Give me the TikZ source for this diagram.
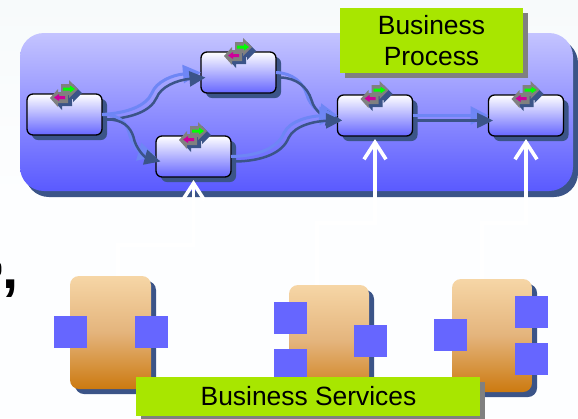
\documentclass[tikz,border=0pt]{standalone}
\usepackage{fontspec}
\setmainfont{Liberation Sans}
\usetikzlibrary{arrows.meta,shadows}
\definecolor{bgtop}{HTML}{F7FAFB}
\definecolor{bgbot}{HTML}{FDFEFF}
\definecolor{navy}{HTML}{3B5488}
\definecolor{flowblue}{HTML}{6E86F5}
\definecolor{portblue}{HTML}{6666FF}
\definecolor{lime}{HTML}{A8E600}
\definecolor{ptop}{HTML}{C4C4FF}
\definecolor{pbot}{HTML}{5A5AFF}
\definecolor{otop}{HTML}{F6D6A6}
\definecolor{omid}{HTML}{E4B47C}
\definecolor{obot}{HTML}{CC7A10}
\definecolor{iconmag}{HTML}{CC0099}
\definecolor{icongreen}{HTML}{00FF00}
\tikzset{
  x=1pt,y=-1pt,
  every node/.style={outer sep=0pt,inner sep=0pt},
  navyshadow/.style={drop shadow={shadow xshift=5pt,shadow yshift=-5pt,fill=navy,opacity=1}},
  panelbox/.style={minimum width=553pt,minimum height=158pt,rounded corners=24pt,top color=ptop,bottom color=pbot,
    drop shadow={shadow xshift=5pt,shadow yshift=-6pt,fill=navy,opacity=1}},
  taskbox/.style={minimum width=75pt,minimum height=41pt,rounded corners=6pt,draw=black,line width=1.3pt,
    top color=white,bottom color=portblue,navyshadow},
  servicebox/.style={rounded corners=9pt,top color=otop,bottom color=obot,middle color=omid,navyshadow},
  port/.style={fill=portblue,minimum width=33pt,minimum height=32pt},
  tag/.style={fill=lime,font=\fontsize{26.4}{32.5}\selectfont,align=center,
    drop shadow={shadow xshift=5pt,shadow yshift=-5pt,fill=black!50,opacity=1}},
  flowlight/.style={draw=flowblue,line width=3pt,-{Triangle[length=18pt,width=18pt]}},
  flowdark/.style={draw=navy,line width=2.5pt,-{Triangle[length=16pt,width=15pt]},transform canvas={shift={(4.5pt,-5pt)}}},
  feed/.style={draw=white,line width=3.6pt,-{Straight Barb[length=17pt,width=22pt,line width=3.6pt]}},
  bpicon/.pic={
    \begin{scope}[shift={(-64.5,-94)}]
      \fill[navy,shift={(4,4)}] (61,84)--(69,84)--(69,80)--(78,89)--(69,98)--(69,95)--(61,95)--cycle;
      \fill[navy,shift={(4,3)}] (68,92)--(58,92)--(58,89)--(50,98)--(58,107)--(58,103)--(68,103)--cycle;
      \fill[black!50] (61,84)--(69,84)--(69,80)--(78,89)--(69,98)--(69,95)--(61,95)--cycle;
      \fill[icongreen] (63,87.5)--(70,87.5)--(70,85.5)--(75,89)--(70,92.5)--(70,90.5)--(63,90.5)--cycle;
      \fill[black!50] (68,92)--(58,92)--(58,89)--(50,98)--(58,107)--(58,103)--(68,103)--cycle;
      \fill[iconmag] (65,96)--(59,96)--(59,94)--(54,97.5)--(59,101)--(59,99)--(65,99)--cycle;
    \end{scope}
  }
}
\newcommand\flowpair[1]{\draw[flowlight] #1; \draw[flowdark] #1;}
\begin{document}
\begin{tikzpicture}
\useasboundingbox (0,0) rectangle (578,418);
\fill[bgbot] (0,0) rectangle (578,418);
\shade[top color=bgtop,bottom color=bgbot] (0,0) rectangle (578,200);

% clipped punctuation at the left edge
\fill (0,269) ellipse [x radius=1.4,y radius=6];
\node[anchor=base,font=\bfseries\fontsize{58}{58}\selectfont] (comma) at (10.5,288.5) {,};

% panel
\node[panelbox] (panel) at (296.5,112) {};

% tasks
\node[taskbox] (T1) at (64.5,114.5) {};
\node[taskbox] (T2) at (238.5,72.5) {};
\node[taskbox] (T3) at (193.5,156.5) {};
\node[taskbox] (T4) at (375,115.5) {};
\node[taskbox] (T5) at (526,115.5) {};

% services
\node[servicebox,minimum width=81pt,minimum height=113pt] (S1) at (110.5,332.5) {};
\node[servicebox,minimum width=80pt,minimum height=113pt] (S2) at (329,341.5) {};
\node[servicebox,minimum width=80pt,minimum height=113pt] (S3) at (492,335.5) {};

% feeds from services to tasks
\draw[feed] ([xshift=7.5pt]S1.north) -- ++(0,-31) -| ([yshift=-3pt]T3.south);
\draw[feed] ([xshift=-12pt]S2.north) -- ++(0,-62) -| ([yshift=-3pt]T4.south);
\draw[feed] ([xshift=-10pt]S3.north) -- ++(0,-56) -| ([yshift=-3pt]T5.south);

% ports
\node[port] (P1a) at (70,332) {};
\node[port] (P1b) at (151,332) {};
\node[port] (P2a) at (290.5,317.5) {};
\node[port] (P2b) at (290.5,365) {};
\node[port] (P2c) at (370.5,341) {};
\node[port] (P3a) at (450.5,335) {};
\node[port] (P3b) at (531.5,311.5) {};
\node[port] (P3c) at (531.5,359) {};

% flows
\flowpair{(T1.east) .. controls (128,113) and (146,106) .. (152,93) .. controls (156,82) and (172,75) .. (T2.west)}
\flowpair{(T1.east) .. controls (118,114) and (126,122) .. (129,132) .. controls (131,143) and (140,152) .. (T3.west)}
\flowpair{(T2.east) .. controls (292,73) and (303,82) .. (307,95) .. controls (310,107) and (322,113) .. (T4.west)}
\flowpair{(T3.east) .. controls (258,156) and (278,148) .. (284,133) .. controls (290,120) and (312,116) .. (T4.west)}
\flowpair{(T4.east) -- (T5.west)}

% icons
\foreach \t in {T1,T2,T3,T4,T5} \pic at (\t.north) {bpicon};

% labels
\node[tag,minimum width=183pt,minimum height=65pt] (bp) at (431.5,40.5) {\raisebox{-1pt}{Business}\\Process};
\node[tag,minimum width=344pt,minimum height=39pt] (bs) at (308,396.5) {\hspace{1pt}Business Services};
\end{tikzpicture}
\end{document}
